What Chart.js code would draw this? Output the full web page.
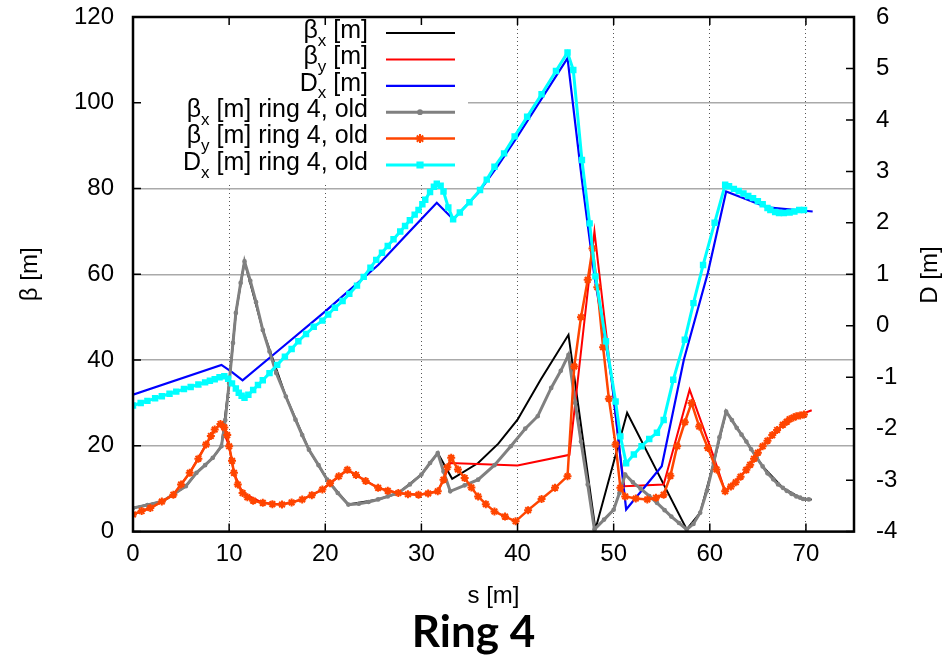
<!DOCTYPE html>
<html>
<head>
<meta charset="utf-8">
<title>Ring 4</title>
<script src="https://cdn.jsdelivr.net/npm/chart.js@4.4.0/dist/chart.umd.min.js"></script>
<style>
  body { margin: 0; background: #fff; }
</style>
</head>
<body>
<canvas id="container" width="947" height="661"></canvas>
<script>
// tick labels
const sTicks = [0, 10, 20, 30, 40, 50, 60, 70];
const betaTicks = [0, 20, 40, 60, 80, 100, 120];
const dTicks = [-4, -3, -2, -1, 0, 1, 2, 3, 4, 5, 6];

// new optics, [s, value]
const betaXNew = [[0, 5.5], [3.1, 7.1], [5.5, 10.6], [6.6, 13.7], [8.3, 17.2], [9.2, 19.9], [10.0, 34.6], [10.7, 51],
  [11.6, 63], [13.5, 47], [15.9, 31.5], [18.3, 19.1], [20.2, 12.1], [22.4, 6.3], [25.5, 7.5], [27.6, 9.0], [30.0, 13.3],
  [31.7, 18.3], [33.2, 12.3], [35.9, 16.0], [38.0, 20.5], [40.0, 26.1], [42.4, 35.4], [45.3, 45.9], [48.1, 0.5],
  [51.4, 27.7], [54.5, 14.1], [57.6, 0.5], [59.0, 4.4], [60.4, 16.0], [61.7, 28.0], [63.8, 21.0], [65.5, 15.2],
  [67.6, 10.2], [69.7, 7.5], [70.6, 7.5]];
const betaYNew = [[0, 4.0], [1.8, 5.5], [4.2, 8.6], [5.9, 13.7], [7.6, 20.3], [8.5, 23.8], [9.1, 25.1], [10.0, 19.9],
  [10.5, 13.7], [11.4, 9.0], [13.5, 6.7], [15.5, 6.3], [17.6, 7.5], [19.7, 9.8], [22.3, 14.4], [25.5, 10.2], [27.6, 9.0],
  [29.7, 8.6], [31.7, 9.4], [32.3, 12.1], [33.0, 16.0], [40.0, 15.4], [45.4, 17.9], [48.0, 70.0], [50.7, 17.5],
  [51.1, 10.6], [55.2, 11.0], [57.9, 33.1], [60.4, 17.5], [61.6, 9.4], [63.8, 14.4], [65.5, 19.9], [67.6, 24.9],
  [69.0, 26.9], [70.6, 28.3]];
const dxNew = [[0, -1.34], [9.2, -0.76], [10.3, -0.9], [11.4, -1.06], [15.0, -0.5], [20.0, 0.28], [25.5, 1.18],
  [28.5, 1.78], [31.6, 2.39], [33.3, 2.07], [35.9, 2.58], [38.0, 3.12], [40.0, 3.68], [45.2, 5.2], [46.7, 2.83],
  [48.0, 0.96], [49.8, -1.05], [51.3, -3.57], [55.0, -2.73], [57.3, -0.66], [59.8, 1.03], [61.7, 2.61], [66.0, 2.3],
  [70.7, 2.22]];

// ring 4, old optics
const betaXOld = [[0, 5.5], [1.5, 6.2], [3.1, 7.1], [4.3, 8.8], [5.5, 10.6], [6.6, 13.7], [7.5, 15.5], [8.3, 17.2],
  [9.2, 19.9], [9.6, 26], [10.0, 34.6], [10.4, 44], [10.7, 51], [11.2, 58], [11.6, 63], [12.2, 58.5], [12.8, 53.5],
  [13.5, 47], [14.2, 42], [14.9, 37], [15.9, 31.5], [16.9, 26.1], [17.6, 22.5], [18.3, 19.1], [19.3, 15.5], [20.2, 12.1],
  [21.3, 9], [22.4, 6.3], [23.5, 6.5], [24.5, 6.9], [25.5, 7.5], [26.5, 8.2], [27.6, 9.0], [28.8, 11], [30.0, 13.3],
  [30.9, 16], [31.7, 18.3], [32.3, 14], [33.0, 9.4], [34.5, 10.8], [35.9, 12.1], [37.6, 15.5], [39.3, 19.9], [40.8, 24],
  [42.1, 26.9], [43.5, 33.5], [44.5, 37.5], [45.3, 41.2], [46.0, 30], [46.6, 21], [47.3, 11], [48.0, 0.5], [49.0, 2.8],
  [50.0, 5.1], [50.6, 9], [51.2, 13.3], [52.0, 11.5], [52.8, 10], [53.7, 8.3], [54.5, 6.7], [55.3, 5], [56.0, 3.5],
  [56.8, 2], [57.6, 0.5], [58.3, 1.8], [59.0, 4.4], [59.7, 9.5], [60.4, 16.0], [61.0, 22], [61.7, 28.0], [62.3, 26],
  [62.8, 24.2], [63.3, 22.6], [63.8, 21.0], [64.3, 19.2], [64.9, 17.1], [65.5, 15.2], [66.0, 13.6], [66.6, 12.2],
  [67.1, 11], [67.6, 10.2], [68.0, 9.5], [68.5, 8.8], [69.0, 8.2], [69.4, 7.9], [69.7, 7.6], [70.3, 7.5]];
const betaYOld = [[0, 4.0], [0.9, 4.8], [1.8, 5.5], [3.0, 7.0], [4.2, 8.6], [5.0, 11.0], [5.9, 13.7], [6.8, 17.0],
  [7.6, 20.3], [8.1, 22.3], [8.5, 23.8], [9.1, 25.1], [9.5, 24.3], [9.8, 22.5], [10.0, 19.9], [10.3, 16.5], [10.5, 13.7],
  [10.9, 11], [11.4, 9.0], [11.9, 8.0], [12.5, 7.2], [13.5, 6.7], [14.5, 6.4], [15.5, 6.3], [16.5, 6.8], [17.6, 7.5],
  [18.6, 8.5], [19.7, 9.8], [20.5, 11.3], [21.4, 12.9], [22.3, 14.4], [23.2, 13.2], [24.2, 11.8], [25.5, 10.2],
  [26.5, 9.5], [27.6, 9.0], [28.6, 8.7], [29.7, 8.6], [30.7, 8.9], [31.7, 9.4], [32.3, 12.1], [32.7, 15], [33.1, 17.2],
  [33.8, 14.5], [34.5, 12.5], [35.2, 10.3], [35.9, 8.2], [36.7, 6.4], [37.6, 4.7], [38.7, 3.5], [39.8, 2.4], [41.1, 5.0],
  [42.5, 7.6], [43.9, 10.2], [45.2, 12.9], [45.9, 38.5], [46.6, 50], [47.3, 58.7], [47.8, 66], [48.3, 57], [48.9, 43],
  [49.5, 31], [50.2, 20.3], [50.7, 10.2], [51.2, 8.2], [52.3, 7.7], [53.5, 7.5], [54.4, 7.9], [55.2, 8.6], [55.9, 13],
  [56.6, 19.9], [57.4, 25.5], [58.1, 30.0], [58.9, 24.5], [59.8, 19.5], [60.7, 14.5], [61.6, 9.4], [62.2, 10.5],
  [62.7, 11.5], [63.2, 12.8], [63.8, 14.4], [64.2, 15.6], [64.6, 17.0], [65.0, 18.4], [65.5, 19.9], [66.0, 21.2],
  [66.5, 22.5], [67.0, 23.7], [67.6, 24.9], [68.0, 25.6], [68.3, 26.2], [68.7, 26.6], [69.0, 26.9], [69.4, 27.1],
  [69.8, 27.3]];
const dxOld = [[0, -1.55], [0.8, -1.5], [1.5, -1.46], [2.3, -1.41], [3.0, -1.37], [3.8, -1.32], [4.5, -1.28],
  [5.3, -1.23], [6.0, -1.19], [6.8, -1.14], [7.5, -1.1], [8.0, -1.07], [8.5, -1.04], [9.0, -1.0], [9.5, -0.98],
  [9.9, -1.03], [10.3, -1.12], [10.7, -1.22], [11.0, -1.3], [11.3, -1.36], [11.6, -1.4], [12.0, -1.34], [12.5, -1.25],
  [13.0, -1.15], [13.5, -1.06], [14.2, -0.92], [15.0, -0.76], [15.8, -0.6], [16.5, -0.45], [17.2, -0.3], [18.0, -0.16],
  [18.8, -0.02], [19.7, 0.1], [20.3, 0.22], [21.0, 0.35], [21.8, 0.48], [22.5, 0.62], [23.3, 0.78], [24.0, 0.95],
  [24.7, 1.13], [25.3, 1.28], [25.9, 1.42], [26.5, 1.55], [27.1, 1.68], [27.8, 1.83], [28.3, 1.94], [28.8, 2.05],
  [29.3, 2.16], [29.7, 2.25], [30.1, 2.36], [30.4, 2.45], [30.9, 2.6], [31.3, 2.7], [31.6, 2.76], [32.0, 2.72],
  [32.3, 2.61], [32.8, 2.3], [33.3, 2.07], [34.0, 2.2], [35.0, 2.4], [36.1, 2.64], [36.8, 2.84], [37.6, 3.09],
  [38.6, 3.35], [39.7, 3.68], [41.0, 4.06], [42.5, 4.5], [44.0, 4.95], [45.2, 5.31], [45.8, 4.97], [46.7, 3.22],
  [47.5, 1.99], [48.1, 0.96], [49.2, -0.3], [50.2, -1.47], [50.7, -2.15], [51.3, -2.67], [52.1, -2.5], [52.9, -2.34],
  [53.7, -2.2], [54.5, -2.08], [55.2, -1.83], [56.2, -1.05], [57.4, -0.27], [58.3, 0.44], [59.3, 1.18], [60.5, 2.0],
  [61.6, 2.74], [62.0, 2.71], [62.5, 2.66], [63.0, 2.62], [63.5, 2.57], [64.0, 2.52], [64.5, 2.48], [65.0, 2.42],
  [65.5, 2.36], [66.0, 2.29], [66.3, 2.25], [66.8, 2.21], [67.2, 2.19], [67.7, 2.19], [68.3, 2.2], [68.8, 2.22],
  [69.3, 2.25], [69.8, 2.25]];

const FONT = "'Liberation Sans', Arial, sans-serif";
const toXY = arr => arr.map(p => ({x: p[0], y: p[1]}));

const series = [
  {label: [['β'], ['x', 1], [' [m]']], data: betaXNew, axis: 'y', color: '#000000', lw: 2, style: false},
  {label: [['β'], ['y', 1], [' [m]']], data: betaYNew, axis: 'y', color: '#ff0000', lw: 2, style: false},
  {label: [['D'], ['x', 1], [' [m]']], data: dxNew, axis: 'y2', color: '#0000ff', lw: 2.2, style: false},
  {label: [['β'], ['x', 1], [' [m] ring 4, old']], data: betaXOld, axis: 'y', color: '#808080', lw: 3, style: 'circle', r: 1.6, pw: 1.5},
  {label: [['β'], ['y', 1], [' [m] ring 4, old']], data: betaYOld, axis: 'y', color: '#ff4500', lw: 2.5, style: 'star', r: 4, pw: 2},
  {label: [['D'], ['x', 1], [' [m] ring 4, old']], data: dxOld, axis: 'y2', color: '#00ffff', lw: 3, style: 'rect', r: 3.5, pw: 1.5}
];

// no extra room above/below the plot for the end tick labels
const noEndPadding = s => { s.paddingTop = 0; s.paddingBottom = 0; };

// gnuplot style key, frame and inward tics
const gnuplotBits = {
  id: 'gnuplotBits',
  beforeDatasetsDraw(chart) {
    const {ctx, chartArea: a} = chart;
    ctx.save();
    ctx.fillStyle = '#fff';
    ctx.fillRect(a.left, a.top, 468 - a.left, 182 - a.top);
    ctx.textBaseline = 'middle';
    ctx.fillStyle = '#000';
    series.forEach((s, i) => {
      const y = 33 + i * 26.4;
      const main = '25px ' + FONT, sub = '17px ' + FONT;
      let w = 0;
      s.label.forEach(p => { ctx.font = p[1] ? sub : main; w += ctx.measureText(p[0]).width; });
      let x = 368 - w;
      s.label.forEach(p => {
        ctx.font = p[1] ? sub : main;
        ctx.fillText(p[0], x, p[1] ? y + 8 : y - 2);
        x += ctx.measureText(p[0]).width;
      });
      ctx.strokeStyle = s.color;
      ctx.lineWidth = s.lw;
      ctx.beginPath();
      ctx.moveTo(386, y);
      ctx.lineTo(455, y);
      ctx.stroke();
      if (s.style) {
        ctx.lineWidth = s.pw;
        Chart.helpers.drawPoint(ctx, {pointStyle: s.style, radius: s.r + 0.5, borderWidth: s.pw}, 420, y);
        if (s.style !== 'star') {
          ctx.fillStyle = s.color;
          ctx.fill();
          ctx.fillStyle = '#000';
        }
      }
    });
    ctx.restore();
  },
  afterDatasetsDraw(chart) {
    const {ctx, chartArea: a, scales} = chart;
    ctx.save();
    ctx.strokeStyle = '#000';
    ctx.lineWidth = 1.5;
    const tl = 8;
    ctx.beginPath();
    sTicks.forEach(v => {
      const x = scales.x.getPixelForValue(v);
      ctx.moveTo(x, a.bottom); ctx.lineTo(x, a.bottom - tl);
      ctx.moveTo(x, a.top); ctx.lineTo(x, a.top + tl);
    });
    betaTicks.forEach(v => {
      const y = scales.y.getPixelForValue(v);
      ctx.moveTo(a.left, y); ctx.lineTo(a.left + tl, y);
    });
    dTicks.forEach(v => {
      const y = scales.y2.getPixelForValue(v);
      ctx.moveTo(a.right, y); ctx.lineTo(a.right - tl, y);
    });
    ctx.stroke();
    ctx.lineWidth = 2.5;
    ctx.strokeRect(a.left, a.top, a.right - a.left, a.bottom - a.top);
    // right axis title reads bottom to top like the left one
    ctx.translate(930, 275);
    ctx.rotate(-Math.PI / 2);
    ctx.font = '24px ' + FONT;
    ctx.fillStyle = '#000';
    ctx.textAlign = 'center';
    ctx.textBaseline = 'middle';
    ctx.fillText('D [m]', 0, 0);
    ctx.restore();
  }
};

const tickFont = {family: FONT, size: 24};

new Chart(document.getElementById('container').getContext('2d'), {
  type: 'line',
  data: {
    datasets: series.map((s, i) => ({
      data: toXY(s.data),
      yAxisID: s.axis,
      borderColor: s.color,
      backgroundColor: s.color,
      borderWidth: s.lw,
      pointStyle: s.style || 'circle',
      pointRadius: s.style ? s.r : 0,
      pointBorderWidth: s.pw || 1,
      pointBorderColor: s.color,
      pointBackgroundColor: s.color,
      tension: 0,
      fill: false,
      order: series.length - i  // later series on top, like gnuplot
    }))
  },
  options: {
    responsive: false,
    animation: false,
    events: [],
    layout: {padding: {top: 17, left: 0, right: 0, bottom: 0}},
    plugins: {
      legend: {display: false},
      tooltip: {enabled: false},
      title: {
        display: true,
        text: 'Ring 4',
        position: 'bottom',
        color: '#000',
        font: {family: 'Lato, sans-serif', size: 44, weight: 'bold', lineHeight: 1.1},
        padding: {top: 0, bottom: 4}
      }
    },
    scales: {
      x: {
        type: 'linear',
        min: 0,
        max: 75,
        afterBuildTicks: s => { s.ticks = sTicks.map(v => ({value: v})); },
        afterFit: s => { s.height = 77; },
        ticks: {color: '#000', font: tickFont, padding: 8, maxRotation: 0, autoSkip: false},
        grid: {color: '#555', lineWidth: 1, drawTicks: false},
        border: {display: false, dash: [1, 3]},
        title: {display: true, text: 's [m]', color: '#000', font: {family: FONT, size: 24, lineHeight: 1}, padding: 0}
      },
      y: {
        position: 'left',
        min: 0,
        max: 120,
        afterBuildTicks: s => { s.ticks = betaTicks.map(v => ({value: v})); },
        afterFit: s => { s.width = 133; noEndPadding(s); },
        ticks: {color: '#000', font: tickFont, padding: 19},
        grid: {color: '#aaaaaa', lineWidth: 1.5, drawTicks: false},
        border: {display: false},
        title: {display: true, text: 'β [m]', color: '#000', font: {family: FONT, size: 24, lineHeight: 1}, padding: {top: 18, bottom: 0}}
      },
      y2: {
        position: 'right',
        min: -4,
        max: 6,
        afterBuildTicks: s => { s.ticks = dTicks.map(v => ({value: v})); },
        afterFit: s => { s.width = 93; noEndPadding(s); },
        ticks: {color: '#000', font: tickFont, padding: 22},
        grid: {drawOnChartArea: false, drawTicks: false},
        border: {display: false}
      }
    }
  },
  plugins: [gnuplotBits]
});
</script>
</body>
</html>
